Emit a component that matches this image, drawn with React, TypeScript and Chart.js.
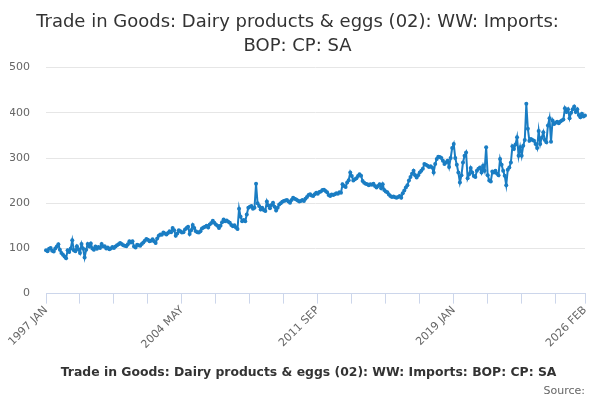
import { useEffect, useRef } from 'react';
import { Chart, registerables } from 'chart.js';

Chart.register(...registerables);

const TITLE_LINES = ['Trade in Goods: Dairy products & eggs (02): WW: Imports:', 'BOP: CP: SA'];
const SERIES_NAME = 'Trade in Goods: Dairy products & eggs (02): WW: Imports: BOP: CP: SA';
const SOURCE_TEXT = 'Source:';
const MONTHS = ['JAN', 'FEB', 'MAR', 'APR', 'MAY', 'JUN', 'JUL', 'AUG', 'SEP', 'OCT', 'NOV', 'DEC'];
const FIRST_YEAR = 1997;
const Y_MAX = 500;
const Y_STEP = 100;

// monthly values (£m)
const values1997to2004 = [
  96, 94, 99, 101, 95, 93, 100, 104, 109, 97, 90, 86,
  82, 78, 96, 92, 100, 118, 96, 94, 105, 98, 90, 110,
  100, 80, 97, 110, 104, 111, 100, 97, 104, 99, 103, 101,
  110, 104, 105, 100, 102, 98, 100, 103, 101, 104, 107, 109,
  112, 110, 107, 106, 105, 109, 116, 113, 116, 104, 102, 108,
  107, 106, 110, 113, 117, 121, 119, 116, 117, 120, 116, 112,
  122, 128, 131, 130, 135, 133, 131, 134, 138, 136, 145, 140,
  128, 133, 140, 138, 135, 136, 142, 145, 148, 132, 140, 152,
];
const values2005to2012 = [
  145, 138, 136, 135, 138, 144, 146, 148, 150, 146, 153, 156,
  161, 157, 153, 150, 145, 150, 158, 164, 160, 162, 159, 157,
  152, 149, 151, 146, 143, 188, 170, 160, 163, 160, 175, 190,
  192, 194, 188, 190, 243, 200, 194, 186, 190, 185, 183, 204,
  195, 189, 196, 201, 192, 184, 190, 197, 200, 203, 205, 206,
  207, 204, 201, 207, 212, 210, 208, 206, 204, 205, 207, 205,
  210, 214, 218, 220, 217, 216, 220, 223, 221, 225, 226, 229,
  230, 227, 224, 218, 216, 219, 218, 220, 222, 221, 224, 223,
];
const values2013to2019 = [
  242, 238, 236, 246, 251, 268, 260, 250, 253, 255, 260, 264,
  261, 249, 245, 243, 242, 240, 242, 241, 243, 238, 235, 238,
  242, 233, 242, 229, 226, 224, 219, 216, 214, 215, 213, 212,
  214, 216, 212, 222, 228, 235, 240, 250, 258, 265, 272, 262,
  257, 262, 268, 272, 276, 287, 285, 283, 280, 282, 279, 268,
  287, 298, 303, 302, 300, 294, 287, 290, 294, 280, 300, 322,
  331, 300, 285, 268, 246, 262, 290, 305, 312, 255, 264, 278,
];
const values2020to2026 = [
  268, 260, 258, 272, 276, 279, 268, 283, 272, 324, 262, 250,
  248, 270, 268, 272, 266, 262, 298, 285, 272, 261, 240, 274,
  279, 290, 326, 320, 330, 346, 305, 324, 305, 327, 340, 420,
  365, 338, 342, 340, 338, 331, 322, 360, 331, 345, 357, 340,
  335, 372, 388, 336, 383, 375, 378, 380, 377, 381, 383, 385,
  410, 402, 408, 388, 400, 408, 414, 402, 408, 395, 390, 398,
  392, 394,
];

const values = [...values1997to2004, ...values2005to2012, ...values2013to2019, ...values2020to2026];
const labels = values.map((_, i) => `${FIRST_YEAR + Math.floor(i / 12)} ${MONTHS[i % 12]}`);
const LAST = values.length - 1;
const TICK_EVERY = 22;
const LABEL_EVERY = 88;

const FONT = "'DejaVu Sans', sans-serif";
const LINE_COLOR = '#1a7dc3';

const App = () => {
  const ref = useRef<HTMLCanvasElement>(null);

  useEffect(() => {
    document.body.style.margin = '0';
    if (ref.current == null) return () => {};
    Chart.defaults.font.family = FONT;
    const chart = new Chart(ref.current, {
      type: 'line',
      data: {
        labels,
        datasets: [
          {
            label: SERIES_NAME,
            data: values,
            borderColor: LINE_COLOR,
            backgroundColor: LINE_COLOR,
            borderWidth: 2,
            pointRadius: 2,
            pointBorderWidth: 0,
            pointHoverRadius: 0,
            tension: 0,
          },
        ],
      },
      options: {
        responsive: true,
        maintainAspectRatio: false,
        animation: false,
        layout: { padding: { left: 10, right: 15, top: 0, bottom: 2 } },
        plugins: {
          title: {
            display: true,
            text: TITLE_LINES,
            color: '#333333',
            font: { size: 18, weight: 'normal', lineHeight: 1.35 },
            padding: { top: 10, bottom: 9 },
          },
          subtitle: {
            display: true,
            text: SOURCE_TEXT,
            position: 'bottom',
            align: 'end',
            color: '#666666',
            font: { size: 11 },
            padding: { top: -4, bottom: 0 },
          },
          legend: {
            position: 'bottom',
            labels: {
              usePointStyle: true,
              pointStyle: 'line',
              pointStyleWidth: 16,
              padding: 5,
              color: '#333333',
              font: { size: 12.4, weight: 'bold' },
            },
          },
          tooltip: { enabled: false },
        },
        scales: {
          x: {
            type: 'category',
            offset: false,
            afterBuildTicks: (axis: any) => {
              axis.ticks = axis.ticks.filter((t: any) => t.value % TICK_EVERY === 0 || t.value === LAST);
            },
            afterFit: (axis: any) => {
              axis.height += 10;
              axis.paddingLeft = 0;
              axis.paddingRight = 0;
            },
            ticks: {
              autoSkip: false,
              minRotation: 45,
              maxRotation: 45,
              padding: 0,
              color: '#666666',
              font: { size: 11 },
              callback: (value: any) =>
                (value % LABEL_EVERY === 0 || value === LAST ? labels[value] : ''),
            },
            grid: { drawOnChartArea: false, drawTicks: true, tickLength: 10, color: '#ccd6eb' },
            border: { color: '#ccd6eb' },
          },
          y: {
            min: 0,
            max: Y_MAX,
            afterFit: (axis: any) => {
              axis.width = 36;
            },
            ticks: { stepSize: Y_STEP, color: '#666666', font: { size: 11 }, padding: 16 },
            grid: { color: '#e6e6e6', drawTicks: false },
            border: { display: false },
          },
        },
      },
    });
    return () => {
      chart.destroy();
    };
  }, []);

  return (
    <div style={{ width: 600, height: 400 }}>
      <canvas ref={ref} />
    </div>
  );
};

export default App;
